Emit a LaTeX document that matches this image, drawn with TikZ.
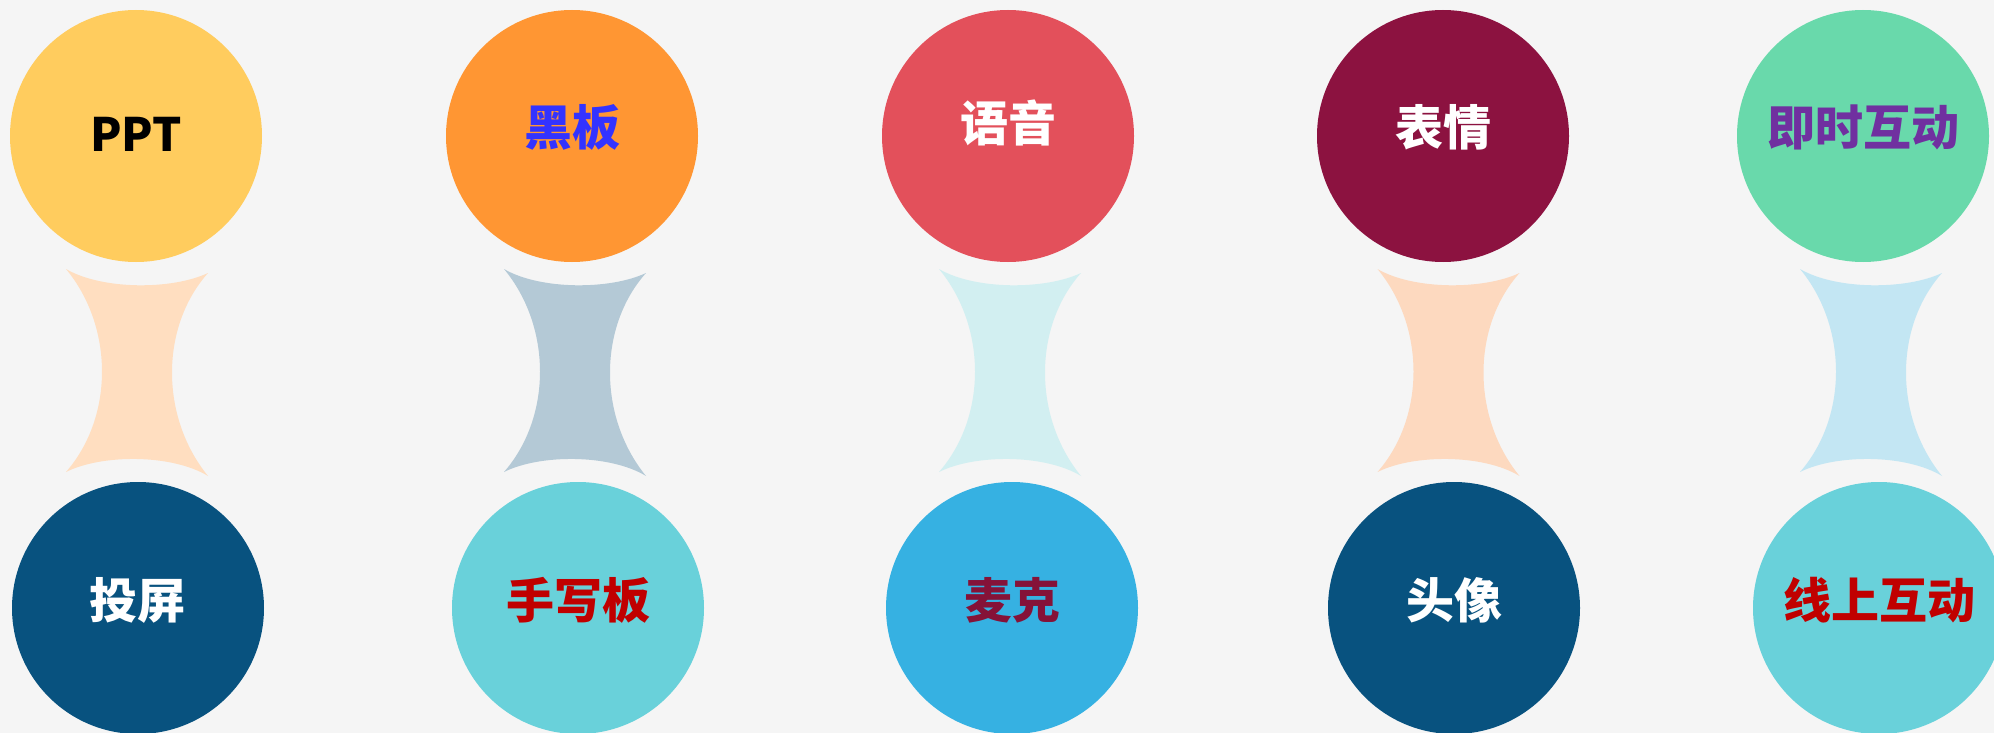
\documentclass[tikz,border=0pt]{standalone}
\usepackage{fontspec}
\newfontfamily\cjk{Noto Sans CJK SC}
\usetikzlibrary{calc}

\definecolor{bg}{HTML}{F5F5F5}
\definecolor{cppt}{HTML}{FFCC5E}
\definecolor{cboard}{HTML}{FF9633}
\definecolor{cvoice}{HTML}{E3505B}
\definecolor{cface}{HTML}{8C1240}
\definecolor{clive}{HTML}{69D9AB}
\definecolor{cnavy}{HTML}{08527F}
\definecolor{cteal}{HTML}{69D1DA}
\definecolor{csky}{HTML}{36B1E2}
\definecolor{hpeach}{HTML}{FFDEC0}
\definecolor{hgrey}{HTML}{B4C9D6}
\definecolor{hmint}{HTML}{D2EFF1}
\definecolor{hsand}{HTML}{FDD9BF}
\definecolor{hice}{HTML}{C3E6F3}
\definecolor{tblue}{HTML}{3333FF}
\definecolor{tpurple}{HTML}{7030A0}
\definecolor{tred}{HTML}{C00000}
\definecolor{tmaroon}{HTML}{851238}

\begin{document}
\begin{tikzpicture}[x=0.5pt, y=-0.5pt,
    ball/.style={circle, inner sep=0pt, minimum size=126pt,
      font=\cjk\bfseries\fontsize{24}{24}\selectfont,
      text height=17pt, text depth=7pt},
    latin/.style={text depth=1pt, font=\cjk\bfseries\fontsize{23}{23}\selectfont},
    high/.style={text depth=11pt},
    plain/.style={}]
      %% \draw [help lines, opacity=0.5] (0,0) grid [step=100] (1994,733);

      \fill [bg] (0,0) rectangle (1994,733);
      \clip (0,0) rectangle (1994,733);

      %% top row
      \foreach \n/\x/\fc/\tc/\o/\t in {t1/136/cppt/black/latin/PPT,
          t2/572/cboard/tblue/plain/黑板, t3/1008/cvoice/white/high/语音,
          t4/1443/cface/white/plain/表情, t5/1863/clive/tpurple/plain/即时互动}
        \node [ball, \o, fill=\fc, text=\tc] (\n) at (\x,136) {\t};

      %% bottom row
      \foreach \n/\x/\fc/\tc/\t in {b1/138/cnavy/white/投屏, b2/578/cteal/tred/手写板,
          b3/1012/csky/tmaroon/麦克, b4/1454/cnavy/white/头像, b5/1879/cteal/tred/线上互动}
        \node [ball, fill=\fc, text=\tc] (\n) at (\x,608) {\t};

      %% hourglass links
      \foreach \a/\b/\c in {t1/b1/hpeach, t2/b2/hgrey, t3/b3/hmint, t4/b4/hsand, t5/b5/hice}
      {
        \begin{scope}[shift={($(\a)!0.5!(\b)$)}]
          \fill [\c] (-71,-103) .. controls (-35,-82) and (35,-82) .. (71,-99)
            .. controls (23,-45) and (23,45) .. (71,104)
            .. controls (35,82) and (-35,82) .. (-71,100)
            .. controls (-23,45) and (-23,-45) .. cycle;
        \end{scope}
      }
\end{tikzpicture}
\end{document}
